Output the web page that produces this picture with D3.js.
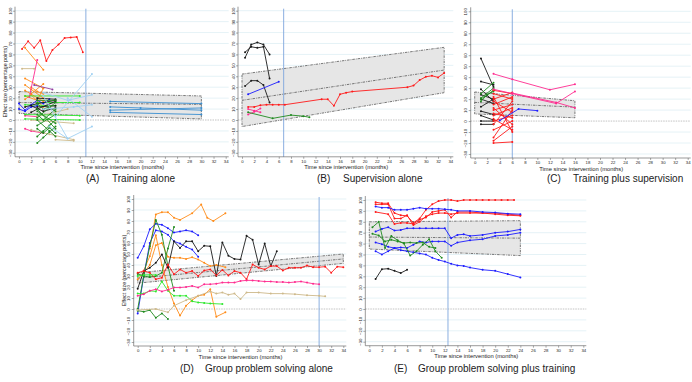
<!DOCTYPE html>
<html>
<head>
<meta charset="utf-8">
<script src="https://cdn.jsdelivr.net/npm/d3@7"></script>
<style>
body { margin: 0; background: #fff; }
svg { display: block; }
text { font-family: "Liberation Sans", Arial, sans-serif; fill: #222; }
</style>
</head>
<body>
<svg id="chart" width="692" height="382"></svg>
<script>
// ---- shared axis values ----
const xTicks = d3.range(0, 35, 2);
const yTicks = d3.range(-30, 101, 10);
const xTitle = "Time since intervention (months)";
const yTitle = "Effect size (percentage points)";

// ---- panel captions ----
const captionLetters = ["(A)", "(B)", "(C)", "(D)", "(E)"];
const captionNames = ["Training alone", "Supervision alone", "Training plus supervision",
    "Group problem solving alone", "Group problem solving plus training"];

// ---- month where the vertical reference line sits ----
const cutoffs = [11, 6.8, 6, 30, 12.5];

// ---- fitted band: [value at start, value at end] ----
const bandA = { start: 0, end: 30, upper: [26, 22], fit: [16, 14.3], lower: [6, 1] };
const bandB = { start: 0, end: 33, upper: [42, 66.5], fit: [18, 45.7], lower: [-6, 25] };
const bandC = { start: 0, end: 16, upper: [26.5, 18.5], fit: [17, 12.7], lower: [6.5, 3] };
const bandD = { start: 0, end: 34, upper: [33, 50], fit: [28, 45.5], lower: [23.5, 41.5] };
const bandE = { start: 0, end: 24, upper: [80, 81], fit: [66, 65], lower: [55, 49] };

// ---- study series: [month, effect size] ----
const seriesA = [
    { grp: "red", pts: [[0.5, 65], [1.5, 72], [2.5, 66], [3.5, 73], [4.5, 54], [5.5, 64], [6.5, 69], [7.5, 75], [8.5, 75.5], [9.5, 76], [10.5, 62]] },
    { grp: "orange", pts: [[1, 66], [4, 46]] },
    { grp: "orange", pts: [[1, 38], [4, 29]] },
    { grp: "orange", pts: [[1, 32], [2, 28], [4, 20]] },
    { grp: "orange", pts: [[1, 27], [4, 17]] },
    { grp: "orange", pts: [[2, 24], [4, 33]] },
    { grp: "orange", pts: [[1, 22], [3, 18], [4, 29]] },
    { grp: "orange", pts: [[1, 19], [2, 23], [4, 12]] },
    { grp: "orange", pts: [[2, 30], [3, 26], [4, 24]] },
    { grp: "magenta", pts: [[1.7, 21], [3, 55]] },
    { grp: "magenta", pts: [[1, -8], [2, -10], [4, -12]] },
    { grp: "magenta", pts: [[1, 4], [3, 3]] },
    { grp: "purple", pts: [[2.5, 32], [5.5, 28]] },
    { grp: "tan", pts: [[0.5, 47], [2.5, 47]] },
    { grp: "tan", pts: [[2, -9], [5, -13], [9, -18]] },
    { grp: "tan", pts: [[2, 0], [9, -3]] },
    { grp: "tan", pts: [[6, -18], [9, -19]] },
    { grp: "tan", pts: [[3, 3], [8, 10]] },
    { grp: "lime", pts: [[1, 22], [10, 22]] },
    { grp: "lime", pts: [[1, 5], [10, 4]] },
    { grp: "lime", pts: [[1, 1], [10, 0]] },
    { grp: "lime", pts: [[1, 14], [6, 13]] },
    { grp: "lime", pts: [[3, 16], [10, 16]] },
    { grp: "blue", pts: [[0, 15], [1, 9], [2, 14], [3, 18], [4, 15], [5, 19]] },
    { grp: "blue", pts: [[0, 10], [1, 8], [2, 12], [3, 13]] },
    { grp: "black", pts: [[2, 7], [3, 10], [6, 17]] },
    { grp: "black", pts: [[1, 12], [3, 15], [6, 18]] },
    { grp: "black", pts: [[3, 12], [6, 13]] },
    { grp: "black", pts: [[2, 13], [4, 8], [6, 11]] },
    { grp: "black", pts: [[3, 20], [6, 19]] },
    { grp: "dgreen", pts: [[3, 15], [4, 10], [5, 12], [6, 8]] },
    { grp: "dgreen", pts: [[3, 5], [4, 0], [6, 10]] },
    { grp: "dgreen", pts: [[3, -5], [6, 5]] },
    { grp: "dgreen", pts: [[3, -21], [4, -16], [5, -11], [6, -6]] },
    { grp: "dgreen", pts: [[3, -15], [4, -10], [5, -5], [6, 0]] },
    { grp: "dgreen", pts: [[3, 10], [6, -8]] },
    { grp: "dgreen", pts: [[3, 0], [5, -10], [6, -15]] },
    { grp: "dgreen", pts: [[3, 18], [6, 18]] },
    { grp: "dgreen", pts: [[3, 2], [6, 16]] },
    { grp: "dgreen", pts: [[3, -8], [4, -12], [5, -7], [6, -12]] },
    { grp: "dgreen", pts: [[3, 8], [6, -3]] },
    { grp: "lblue", pts: [[4, 22], [8, -17], [12, -6]] },
    { grp: "lblue", pts: [[5, -6], [8, -17]] },
    { grp: "lblue", pts: [[6, 3], [12, 42]] },
    { grp: "lblue", pts: [[4, 25], [8, 18], [12, 23]] },
    { grp: "lblue", pts: [[8, 20], [12, 3]] },
    { grp: "lblue", pts: [[4, 10], [9, 12], [12, 14]] },
    { grp: "steel", pts: [[15, 17], [30, 15]] },
    { grp: "steel", pts: [[15, 12], [20, 11], [30, 9]] },
    { grp: "steel", pts: [[15, 9], [30, 11]] },
    { grp: "steel", pts: [[15, 7], [30, 5]] }
];

const seriesB = [
    { grp: "black", pts: [[0.5, 57], [1.5, 69], [2.5, 71], [3.5, 69], [4.5, 60]] },
    { grp: "black", pts: [[0.5, 62], [1.5, 67], [2.5, 66], [3.5, 67], [4.5, 38]] },
    { grp: "black", pts: [[0.5, 31], [1.5, 36], [2.5, 36], [3.5, 32], [4.5, 16]] },
    { grp: "blue", pts: [[1, 23.5], [6, 35]] },
    { grp: "red", pts: [[1, 12], [2, 12], [3, 13.5], [4, 14], [5, 14], [6, 14], [7, 14], [13, 19], [14, 19], [15, 13], [16, 23.5], [17, 25], [18, 26], [27, 30], [28, 31.5], [29, 36.5], [30, 39.5], [31, 40.5], [32, 39], [33, 43]] },
    { grp: "magenta", pts: [[1, 10], [2, 8.5], [3, 7]] },
    { grp: "magenta", pts: [[1, 5], [2, 7.5], [3, 10.5]] },
    { grp: "dgreen", pts: [[1, 7], [5, 1.5], [8, 4.5], [10, 3.5], [11, 2.5]] }
];

const seriesC = [
    { grp: "black", pts: [[1, 57], [3, 31]] },
    { grp: "black", pts: [[1, 36], [3, 33]] },
    { grp: "black", pts: [[1, 29], [3, 18]] },
    { grp: "black", pts: [[1, 24], [3, 20]] },
    { grp: "black", pts: [[1, 20], [3, 16]] },
    { grp: "black", pts: [[1, 13], [3, 20]] },
    { grp: "black", pts: [[1, 9], [3, 6]] },
    { grp: "black", pts: [[1, 5], [3, 1]] },
    { grp: "black", pts: [[1, 0], [3, 0]] },
    { grp: "black", pts: [[1, -3], [3, -3]] },
    { grp: "dgreen", pts: [[1, 25], [3, 35]] },
    { grp: "dgreen", pts: [[1, 21], [3, 30]] },
    { grp: "dgreen", pts: [[1, 20], [3, 28]] },
    { grp: "dgreen", pts: [[1, 18], [2, 24], [3, 27]] },
    { grp: "red", pts: [[3, 28], [6, 25]] },
    { grp: "red", pts: [[3, 25], [6, 20]] },
    { grp: "red", pts: [[3, 20], [6, 26]] },
    { grp: "red", pts: [[3, 18], [6, 8]] },
    { grp: "red", pts: [[3, 15], [6, 22]] },
    { grp: "red", pts: [[3, 12], [6, -3]] },
    { grp: "red", pts: [[3, 10], [6, 15]] },
    { grp: "red", pts: [[3, 7], [6, 3]] },
    { grp: "red", pts: [[3, 5], [6, 12]] },
    { grp: "red", pts: [[3, 2], [6, -8]] },
    { grp: "red", pts: [[3, 0], [6, 5]] },
    { grp: "red", pts: [[3, -3], [6, 18]] },
    { grp: "red", pts: [[3, -8], [6, 0]] },
    { grp: "red", pts: [[3, -15], [6, 10]] },
    { grp: "red", pts: [[3, -18], [6, -5]] },
    { grp: "red", pts: [[3, -20], [6, -19]] },
    { grp: "red", pts: [[3, 22], [6, -10]] },
    { grp: "magenta", pts: [[3, 43], [6, 38], [12, 28.5], [16, 33.5]] },
    { grp: "magenta", pts: [[3, 29], [6, 25], [13, 16], [16, 27]] },
    { grp: "magenta", pts: [[6, 25.5], [13, 17], [16, 12]] },
    { grp: "blue", pts: [[4, 0.5], [7, 11], [10, 9.5]] }
];

const seriesD = [
    { grp: "orange", pts: [[2, 55], [3, 86], [4, 88], [5, 88], [6, 83], [7, 81], [9, 87], [10.5, 95], [11.5, 83], [12.5, 80], [14.5, 87]] },
    { grp: "orange", pts: [[0, 27], [1, 33], [2, 40], [3, 58], [4, 60], [5, 47.5], [6, 46.5], [7, 46.5], [8, 45.5], [9, 47], [10, 45], [11, 42], [12, 39], [13, 40], [14.5, 38]] },
    { grp: "orange", pts: [[1, 35], [2, 48], [3, 67], [4, 40], [5, 20], [6, 5], [7, -6], [8, 3], [9, 8], [10, 12], [11, 13], [12, 18], [13, -7], [14.5, -3]] },
    { grp: "blue", pts: [[0, 46.5], [1, 57], [2, 72.5], [3, 77.5], [4, 76.5], [5, 73.5], [6, 69.5], [7, 70.5], [8, 71.5], [9, 70.5], [10, 67]] },
    { grp: "blue", pts: [[0, -4], [1, 30], [2, 60], [3, 71.5], [4, 70.5], [5, 67.5], [6, 61.5], [7, 59.5], [8, 56.5], [9, 54], [10, 47.5]] },
    { grp: "dgreen", pts: [[0, 0], [1, 30], [2, 57], [3, 81], [4, 67.5], [5, 39], [6, 16.5]] },
    { grp: "dgreen", pts: [[0, 32], [1, 30], [2, 29], [3, 30], [4, 33], [5, 55], [6, 74.5]] },
    { grp: "dgreen", pts: [[0, -1.5], [1, -2.5], [2, -1], [3, -8], [4, -4], [5, -9]] },
    { grp: "lime", pts: [[0, 14], [1, 14], [2, 16.5], [3, 16], [4, 25], [5, 16.5], [6, 12], [7, 12], [8, 12], [9, 7], [10, 6], [11, 5.5], [12, 5], [14, 4.5]] },
    { grp: "black", pts: [[0, 18.5], [1, 34.5], [2, 37.5], [3, 42], [4, 49.5], [5, 37.5], [6, 61.5], [7, 55.5], [8, 61.5], [9, 61.5], [10, 52.5], [11, 57.5], [12, 57], [13, 30], [14, 60.5], [15, 48.5], [16, 45.5], [17, 45], [18, 66.5], [19, 63], [20, 40.5], [21, 59.5], [22, 39], [23, 52.5]] },
    { grp: "red", pts: [[0, 33], [1, 34.5], [2, 33], [3, 27], [4, 28.5], [5, 40.5], [6, 31.5], [7, 36], [8, 33], [9, 34.5], [10, 30], [11, 35], [12, 36], [13, 30.5], [14, 35.5], [15, 30.5], [16, 34.5], [17, 33], [18, 27], [19, 40.5], [20, 37.5], [21, 36], [22, 39], [23, 39], [24, 35], [25, 37.5], [26, 37.5], [27, 37.5], [28, 39.5], [29, 38], [30, 38], [31, 38.5], [32, 33], [33, 38.5], [34, 38]] },
    { grp: "magenta", pts: [[0, 12], [1, 13.5], [2, 16.5], [3, 18], [4, 16], [5, 17.5], [6, 19.5], [7, 19.5], [8, 20], [9, 21], [10, 19.5], [11, 22.5], [12, 22.5], [13, 23], [14, 24], [15, 24], [16, 24], [17, 25.5], [18, 26], [19, 26], [20, 25.5], [21, 25], [22, 25], [23, 24.5], [24, 24.5], [25, 24], [26, 24.5], [27, 25], [28, 24], [29, 23], [30, 22.5]] },
    { grp: "tan", pts: [[0, -1], [3, 0], [5, -3], [6, 3], [8, 8], [10, 12], [12, 16], [13, 14], [14, 15], [15, 13], [16, 14], [17, 9], [18, 15], [20, 15], [22, 14], [24, 14], [26, 13.5], [28, 12.5], [30, 12], [31, 11.5]] },
    { grp: "lime", pts: [[0, 30], [1, 31], [2, 31], [3, 31]] }
];

const seriesE = [
    { grp: "red", pts: [[1, 98], [2, 97], [3, 97], [4, 88], [5, 86], [6, 85.5], [7, 79], [8, 83], [9, 91], [10, 96], [11, 99], [12, 100], [13, 100], [14, 99], [15, 100], [16, 100], [17, 100], [18, 100], [19, 100], [20, 100], [21, 100], [22, 100], [23, 100]] },
    { grp: "red", pts: [[1, 96], [2, 96], [3, 96], [4, 83], [5, 83], [6, 86], [7, 77], [8, 80], [9, 85], [10, 87], [11, 88], [12, 88], [13, 87], [14, 88], [16, 88], [18, 88], [20, 87], [22, 86], [24, 85.5]] },
    { grp: "red", pts: [[1, 89], [3, 87], [4, 78], [5, 79], [6, 79], [7, 78], [8, 82], [9, 84], [10, 89], [11, 90], [12, 91], [13, 84], [14, 89], [16, 89], [18, 88], [20, 88], [22, 87], [24, 86]] },
    { grp: "blue", pts: [[1, 94], [2, 93], [3, 93], [4, 91], [5, 91], [6, 91], [7, 92], [8, 93], [9, 92], [10, 92], [11, 92], [12, 91.5], [13, 91], [14, 90], [16, 90], [18, 89], [20, 88.5], [22, 87.5], [24, 87]] },
    { grp: "blue", pts: [[1, 71], [2, 73.5], [3, 75], [4, 72], [5, 72.5], [6, 74], [7, 74], [8, 74], [9, 74], [10, 74], [11, 74], [12, 74], [13, 65], [14, 68], [15, 68.5], [16, 67], [18, 68], [20, 70], [22, 71], [24, 73]] },
    { grp: "blue", pts: [[1, 61], [2, 59.5], [3, 57], [4, 56], [5, 56.5], [6, 56], [7, 59], [8, 62], [9, 61], [10, 62], [11, 62], [12, 62], [13, 58], [14, 61], [16, 63], [18, 64], [20, 67], [22, 68], [24, 70]] },
    { grp: "blue", pts: [[1, 53], [2, 50], [3, 53], [4, 56], [5, 54], [6, 53], [7, 52], [8, 51], [9, 50], [10, 47], [11, 45], [12, 43.5], [13, 41.5], [14, 40], [15, 39.5], [16, 38], [18, 36], [20, 35], [22, 32], [24, 29]] },
    { grp: "dgreen", pts: [[0.5, 75], [1.5, 80], [2.5, 56], [3.5, 67], [4.5, 63], [5.5, 60], [6.5, 49], [7.5, 53], [8.5, 59], [9.5, 64], [10.5, 53], [11.5, 47]] },
    { grp: "dgreen", pts: [[0.5, 69], [1.5, 67.5], [2.5, 62], [3.5, 63.5], [4.5, 62], [5.5, 60.5], [6.5, 61], [7.5, 60.5], [8.5, 61], [9.5, 57], [10.5, 56]] },
    { grp: "black", pts: [[1, 27.5], [2, 36.5], [3, 37], [4, 35], [5, 33], [6, 36]] }
];

// ---- colours by study group ----
const colour = d3.scaleOrdinal()
    .domain(["red", "orange", "magenta", "purple", "tan", "lime", "blue", "black", "dgreen", "lblue", "steel"])
    .range(["#ff1a1a", "#ff8c1a", "#ff2a8f", "#8e3a9e", "#cdb98a", "#2ee82e", "#1c1cff", "#1a1a1a", "#1f8a1f", "#9fd0f2", "#3a8fd0"]);

// ---- panel layout ----
const panels = [
    { series: seriesA, band: bandA, cut: cutoffs[0], x0: 19, x34: 225.7, yTop: 10.7, yLow: 152.8, yLabel: true, capY: 182, capL: 86, capT: 112 },
    { series: seriesB, band: bandB, cut: cutoffs[1], x0: 242, x34: 450.3, yTop: 10.7, yLow: 152.8, yLabel: false, capY: 182, capL: 317, capT: 343 },
    { series: seriesC, band: bandC, cut: cutoffs[2], x0: 474.7, x34: 687.7, yTop: 11.3, yLow: 154, yLabel: false, capY: 182, capL: 547, capT: 573 },
    { series: seriesD, band: bandD, cut: cutoffs[3], x0: 137.7, x34: 343.3, yTop: 199, yLow: 342, yLabel: true, capY: 372, capL: 180, capT: 205 },
    { series: seriesE, band: bandE, cut: cutoffs[4], x0: 369.3, x34: 583.3, yTop: 200, yLow: 341.7, yLabel: false, capY: 372, capL: 394, capT: 418 }
];

const svg = d3.select("#chart");

function drawPanel(p, i) {
    const x = d3.scaleLinear().domain([0, 34]).range([p.x0, p.x34]);
    const y = d3.scaleLinear().domain([-30, 100]).range([p.yLow, p.yTop]);
    const g = svg.append("g");
    const axisX = p.x0 - 4;
    const baseY = y(-30) + 4;
    const right = p.x34 + 3;

    // grid lines
    g.selectAll(".grid")
        .data(yTicks.filter(d => d !== 0))
        .join("line")
        .attr("x1", axisX).attr("x2", right)
        .attr("y1", d => y(d)).attr("y2", d => y(d))
        .attr("stroke", "#d3eaf0")
        .attr("stroke-width", 0.6);

    // zero reference
    g.append("line")
        .attr("x1", axisX).attr("x2", right)
        .attr("y1", y(0)).attr("y2", y(0))
        .attr("stroke", "#9a9a9a")
        .attr("stroke-width", 0.6)
        .attr("stroke-dasharray", "1.5,1");

    // confidence band + fitted line
    const b = p.band;
    const corners = [[b.start, b.upper[0]], [b.end, b.upper[1]], [b.end, b.lower[1]], [b.start, b.lower[0]]];
    const toXY = d3.line().x(d => x(d[0])).y(d => y(d[1]));
    g.append("path")
        .attr("d", toXY(corners) + "Z")
        .attr("fill", "#e6e6e6")
        .attr("stroke", "#444")
        .attr("stroke-width", 0.7)
        .attr("stroke-dasharray", "2.5,1,0.8,1");
    g.append("path")
        .attr("d", toXY([[b.start, b.fit[0]], [b.end, b.fit[1]]]))
        .attr("fill", "none")
        .attr("stroke", "#444")
        .attr("stroke-width", 0.7)
        .attr("stroke-dasharray", "2.5,1,0.8,1");

    // vertical reference
    g.append("line")
        .attr("x1", x(p.cut)).attr("x2", x(p.cut))
        .attr("y1", y(100) - 2).attr("y2", baseY)
        .attr("stroke", "#7ea6dc")
        .attr("stroke-width", 0.9);

    // study lines
    const line = d3.line().x(d => x(d[0])).y(d => y(d[1]));
    p.series.forEach(s => {
        g.append("path")
            .datum(s.pts)
            .attr("d", line)
            .attr("fill", "none")
            .attr("stroke", colour(s.grp))
            .attr("stroke-width", 0.9);
        g.selectAll(null)
            .data(s.pts)
            .join("circle")
            .attr("cx", d => x(d[0]))
            .attr("cy", d => y(d[1]))
            .attr("r", 1)
            .attr("fill", colour(s.grp));
    });

    // x axis
    const xa = g.append("g")
        .attr("transform", `translate(0,${baseY})`)
        .call(d3.axisBottom(x).tickValues(xTicks).tickSize(2).tickSizeOuter(0));
    xa.select(".domain").remove();
    xa.selectAll(".tick line").attr("stroke", "#555").attr("stroke-width", 0.5);
    xa.selectAll("text").attr("font-size", 4.3).attr("y", 2.8).attr("fill", "#333");
    g.append("line")
        .attr("x1", axisX).attr("x2", right)
        .attr("y1", baseY).attr("y2", baseY)
        .attr("stroke", "#555").attr("stroke-width", 0.6);

    // y axis
    const ya = g.append("g")
        .attr("transform", `translate(${axisX},0)`)
        .call(d3.axisLeft(y).tickValues(yTicks).tickSize(2).tickSizeOuter(0));
    ya.select(".domain").remove();
    ya.selectAll(".tick line").attr("stroke", "#555").attr("stroke-width", 0.5);
    ya.selectAll("text")
        .attr("font-size", 4.3)
        .attr("x", -3.5)
        .attr("dy", 0)
        .attr("text-anchor", "middle")
        .attr("transform", "rotate(-90,-3.5,0)")
        .attr("fill", "#333");
    g.append("line")
        .attr("x1", axisX).attr("x2", axisX)
        .attr("y1", y(100) - 4).attr("y2", baseY)
        .attr("stroke", "#555").attr("stroke-width", 0.6);

    // titles
    g.append("text")
        .attr("x", x(17)).attr("y", baseY + 12.5)
        .attr("text-anchor", "middle")
        .attr("font-size", 5.8)
        .text(xTitle);
    if (p.yLabel) {
        g.append("text")
            .attr("transform", `translate(${axisX - 8},${y(35)}) rotate(-90)`)
            .attr("text-anchor", "middle")
            .attr("font-size", 5.3)
            .text(yTitle);
    }

    // caption
    g.append("text")
        .attr("x", p.capL).attr("y", p.capY)
        .attr("font-size", 10)
        .text(captionLetters[i]);
    g.append("text")
        .attr("x", p.capT).attr("y", p.capY)
        .attr("font-size", 10)
        .text(captionNames[i]);
}

panels.forEach(drawPanel);
</script>
</body>
</html>
